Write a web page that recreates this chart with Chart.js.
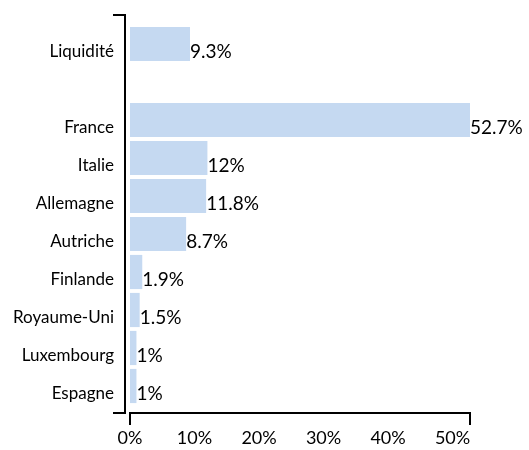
<!DOCTYPE html>
<html>
<head>
<meta charset="utf-8">
<script src="https://cdn.jsdelivr.net/npm/chart.js@4/dist/chart.umd.min.js"></script>
<style>
  html, body { margin: 0; padding: 0; background: #fff; }
  #wrap { width: 529px; height: 450px; }
</style>
</head>
<body>
<div id="wrap"><canvas id="allocChart"></canvas></div>
<script>
// categories (blank slot separates cash from countries)
const countryLabels = ['Liquidité', '', 'France', 'Italie', 'Allemagne', 'Autriche', 'Finlande', 'Royaume-Uni', 'Luxembourg', 'Espagne'];
const countryWeights = [9.3, null, 52.7, 12, 11.8, 8.7, 1.9, 1.5, 1, 1];
const xTickValues = [0, 10, 20, 30, 40, 50];

const FONT = 'Lato, "Open Sans", sans-serif';

// value labels at the end of each bar
const valueLabels = {
  id: 'valueLabels',
  afterDatasetsDraw(chart) {
    const ctx = chart.ctx;
    const meta = chart.getDatasetMeta(0);
    ctx.save();
    ctx.font = '19px ' + FONT;
    ctx.fillStyle = '#000';
    ctx.textAlign = 'left';
    ctx.textBaseline = 'middle';
    meta.data.forEach((bar, i) => {
      const v = countryWeights[i];
      if (v == null) return;
      ctx.fillText(v + '%', bar.x, bar.y + 8);
    });
    ctx.restore();
  }
};

// bracket-style axis lines like the original
const axisLines = {
  id: 'axisLines',
  afterDraw(chart) {
    const ctx = chart.ctx;
    const area = chart.chartArea;
    const x = chart.scales.x;
    const yLineX = area.left - 5;
    const top = area.top - 10;
    const bottom = area.bottom + 8;
    ctx.save();
    ctx.strokeStyle = '#000';
    ctx.lineWidth = 2;
    ctx.beginPath();
    ctx.moveTo(yLineX - 12, top);
    ctx.lineTo(yLineX, top);
    ctx.lineTo(yLineX, bottom);
    ctx.lineTo(yLineX - 12, bottom);
    ctx.stroke();
    const x0 = x.getPixelForValue(0);
    const x1 = x.getPixelForValue(x.max);
    ctx.beginPath();
    ctx.moveTo(x0, bottom + 12);
    ctx.lineTo(x0, bottom);
    ctx.lineTo(x1, bottom);
    ctx.lineTo(x1, bottom + 12);
    ctx.stroke();
    ctx.restore();
  }
};

const allocData = {
  labels: countryLabels,
  datasets: [{
    data: countryWeights,
    backgroundColor: 'rgb(197, 217, 241)',
    borderWidth: 0,
    categoryPercentage: 1,
    barPercentage: 0.9
  }]
};

const allocConfig = {
  type: 'bar',
  data: allocData,
  options: {
    indexAxis: 'y',
    responsive: true,
    maintainAspectRatio: false,
    animation: false,
    layout: { padding: { top: 25, right: 59, left: 0, bottom: 0 } },
    plugins: {
      legend: { display: false },
      tooltip: { enabled: false }
    },
    scales: {
      x: {
        min: 0,
        max: 52.7,
        afterBuildTicks: s => { s.ticks = xTickValues.map(v => ({ value: v })); },
        afterFit: s => { s.height = 45; },
        grid: { display: false },
        border: { display: false },
        ticks: {
          padding: 14,
          color: '#000',
          font: { family: FONT, size: 18 },
          maxRotation: 0,
          callback: v => v + '%'
        }
      },
      y: {
        afterFit: s => { s.width = 130; },
        grid: { display: false },
        border: { display: false },
        ticks: {
          padding: 8,
          labelOffset: 8,
          color: '#000',
          autoSkip: false,
          font: { family: FONT, size: 17 }
        }
      }
    }
  },
  plugins: [valueLabels, axisLines]
};

const allocChart = new Chart(
  document.getElementById('allocChart'),
  allocConfig
);
</script>
</body>
</html>
